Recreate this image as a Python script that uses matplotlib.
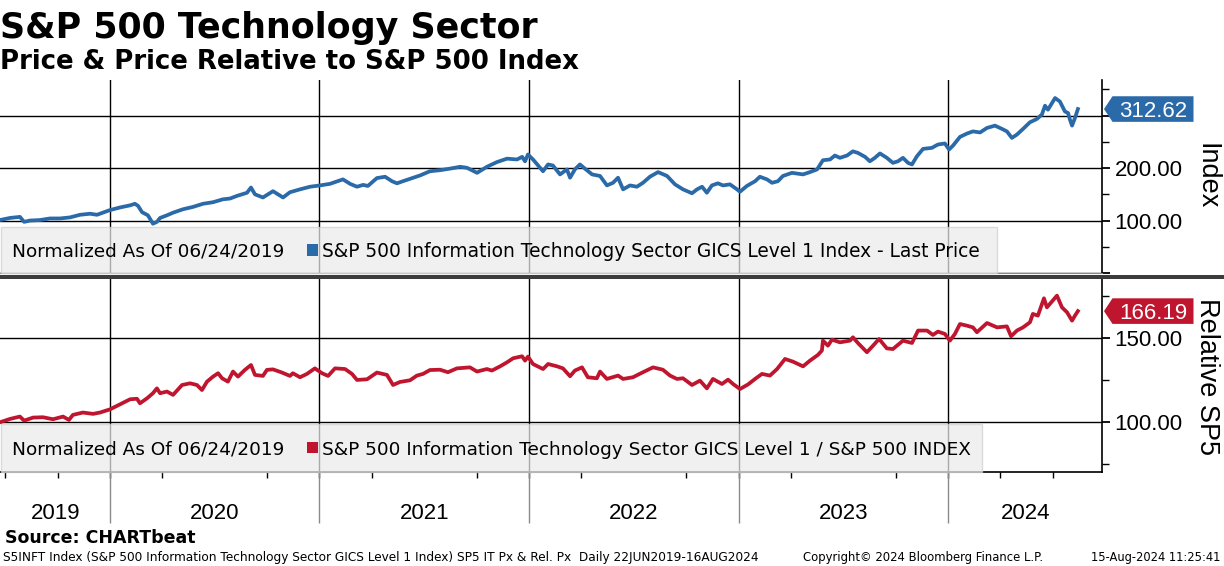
import matplotlib
matplotlib.use('Agg')
import matplotlib.pyplot as plt
from matplotlib.patches import Rectangle, Polygon
from matplotlib.ticker import FixedLocator

W, H = 1224, 566

# time axis in decimal years, values normalized to 100 on 06/24/2019
tech_t = [2019.475, 2019.523, 2019.570, 2019.590, 2019.618, 2019.666, 2019.714, 2019.761, 2019.809, 2019.857,
          2019.905, 2019.938, 2020.000, 2020.048, 2020.096, 2020.119, 2020.134, 2020.153, 2020.181, 2020.205,
          2020.224, 2020.239, 2020.272, 2020.301, 2020.348, 2020.396, 2020.444, 2020.492, 2020.539, 2020.573,
          2020.606, 2020.654, 2020.673, 2020.692, 2020.730, 2020.778, 2020.826, 2020.859, 2020.907, 2020.955,
          2021.002, 2021.050, 2021.112, 2021.146, 2021.179, 2021.208, 2021.231, 2021.274, 2021.313, 2021.346,
          2021.370, 2021.398, 2021.446, 2021.480, 2021.527, 2021.575, 2021.623, 2021.671, 2021.704, 2021.752,
          2021.799, 2021.847, 2021.895, 2021.943, 2021.967, 2021.981, 2021.995, 2022.019, 2022.067, 2022.091,
          2022.114, 2022.148, 2022.181, 2022.196, 2022.219, 2022.243, 2022.267, 2022.301, 2022.339, 2022.372,
          2022.401, 2022.425, 2022.449, 2022.482, 2022.515, 2022.544, 2022.577, 2022.616, 2022.659, 2022.697,
          2022.735, 2022.778, 2022.802, 2022.826, 2022.849, 2022.873, 2022.902, 2022.926, 2022.959, 2022.993,
          2023.007, 2023.040, 2023.079, 2023.102, 2023.136, 2023.160, 2023.188, 2023.212, 2023.255, 2023.308,
          2023.341, 2023.375, 2023.403, 2023.437, 2023.460, 2023.484, 2023.518, 2023.546, 2023.570, 2023.604,
          2023.627, 2023.651, 2023.675, 2023.708, 2023.737, 2023.761, 2023.785, 2023.809, 2023.828, 2023.852,
          2023.881, 2023.923, 2023.952, 2023.985, 2024.005, 2024.024, 2024.057, 2024.091, 2024.119, 2024.153,
          2024.186, 2024.224, 2024.258, 2024.281, 2024.305, 2024.329, 2024.358, 2024.391, 2024.424, 2024.448,
          2024.463, 2024.477, 2024.511, 2024.534, 2024.558, 2024.573, 2024.582, 2024.592, 2024.606, 2024.620]
tech_v = [101, 105, 107, 97.5, 100, 101, 104, 104, 106, 111,
          113, 111, 120, 125, 129, 132, 128, 116, 110, 94,
          97.5, 105, 110, 115, 121.5, 126, 132, 135, 140.5, 142,
          147, 153, 163, 150, 144, 156, 144, 154, 159.5, 164.5,
          167, 170, 178.5, 170, 164.5, 168, 166, 181, 183.5, 175,
          171, 175, 181.5, 186, 194, 196, 199, 202.5, 200.6, 191,
          202.5, 211.5, 218, 216.5, 221.5, 213, 226, 216.5, 194, 207,
          205, 188, 197.5, 181.7, 197.5, 207, 199, 188, 185, 167,
          172, 181.7, 159.5, 167, 164.5, 172, 183.5, 192.4, 185, 169,
          159.5, 152, 159.5, 164.5, 153, 167, 171, 167, 169, 159.5,
          155, 166, 175, 183.5, 178.5, 172, 175, 185, 191, 188,
          192.4, 197.5, 215, 216.5, 224, 219.6, 224, 232, 229, 221.5,
          213, 219.6, 228, 219.6, 210, 213, 219.6, 210, 207, 222.8,
          236.7, 238.6, 245, 247, 235.5, 243, 259.5, 266, 270, 268,
          276.6, 281, 274.7, 270, 257.6, 264, 274.7, 287.4, 293.7, 302,
          319, 311.4, 333.6, 327, 308, 305, 292.4, 281, 295.6, 312.62]

rel_t = [2019.475, 2019.523, 2019.570, 2019.590, 2019.633, 2019.680, 2019.728, 2019.776, 2019.804, 2019.823,
         2019.871, 2019.919, 2019.952, 2020.000, 2020.048, 2020.096, 2020.129, 2020.143, 2020.177, 2020.205,
         2020.224, 2020.239, 2020.272, 2020.301, 2020.344, 2020.382, 2020.415, 2020.439, 2020.463, 2020.492,
         2020.516, 2020.535, 2020.563, 2020.587, 2020.611, 2020.644, 2020.673, 2020.692, 2020.730, 2020.749,
         2020.778, 2020.821, 2020.859, 2020.873, 2020.907, 2020.940, 2020.978, 2021.012, 2021.041, 2021.074,
         2021.122, 2021.155, 2021.179, 2021.227, 2021.274, 2021.322, 2021.351, 2021.384, 2021.432, 2021.465,
         2021.494, 2021.527, 2021.575, 2021.613, 2021.656, 2021.718, 2021.752, 2021.799, 2021.823, 2021.862,
         2021.895, 2021.924, 2021.967, 2021.981, 2021.995, 2022.019, 2022.067, 2022.091, 2022.134, 2022.162,
         2022.196, 2022.219, 2022.253, 2022.281, 2022.324, 2022.339, 2022.372, 2022.425, 2022.449, 2022.496,
         2022.544, 2022.592, 2022.639, 2022.673, 2022.706, 2022.735, 2022.778, 2022.816, 2022.849, 2022.878,
         2022.921, 2022.950, 2022.974, 2023.007, 2023.045, 2023.079, 2023.112, 2023.150, 2023.184, 2023.222,
         2023.260, 2023.308, 2023.341, 2023.379, 2023.398, 2023.403, 2023.427, 2023.446, 2023.484, 2023.532,
         2023.546, 2023.570, 2023.613, 2023.642, 2023.671, 2023.708, 2023.737, 2023.785, 2023.828, 2023.857,
         2023.900, 2023.928, 2023.952, 2023.985, 2024.009, 2024.033, 2024.057, 2024.091, 2024.119, 2024.138,
         2024.186, 2024.234, 2024.281, 2024.301, 2024.329, 2024.358, 2024.391, 2024.405, 2024.429, 2024.458,
         2024.472, 2024.520, 2024.544, 2024.568, 2024.592, 2024.606, 2024.620]
rel_v = [100, 102, 103.4, 101, 102.8, 103, 101.8, 103.4, 101.4, 104.4,
         105.8, 105, 105.8, 107.7, 110.7, 113.7, 114, 111.3, 114.3, 117.3,
         120.2, 117.3, 118.3, 116.3, 122.2, 123.2, 122.2, 119.2, 124.2, 127.2,
         129.2, 126.2, 124.2, 130.2, 127.2, 131.2, 134.1, 128.2, 127.6, 131.2,
         131.5, 129.6, 127.6, 129.2, 126.8, 128.8, 132.1, 129.2, 127.6, 132.1,
         131.7, 128.8, 125.2, 125.6, 129.6, 128.2, 122.2, 124, 125, 127.8,
         128.8, 131.1, 131.3, 129.8, 132.1, 132.7, 130.2, 131.7, 130.8, 133.3,
         135.7, 138.1, 139.3, 136.7, 139.1, 134.7, 131.7, 134.7, 133.3, 132.1,
         127.4, 130.8, 132.7, 126.8, 126.2, 130.2, 125.8, 127.8, 125.8, 126.8,
         129.8, 132.7, 131.3, 127.8, 125.8, 126.2, 122.2, 124.8, 120.2, 125.8,
         122.8, 125.4, 122.8, 119.8, 122.5, 125.8, 128.8, 127.8, 131.7, 137.7,
         136.1, 133.3, 136.7, 140.1, 142.7, 148.6, 145.6, 149.2, 147.6, 148.6,
         150.6, 147.2, 141.7, 145.6, 149.6, 144, 143.6, 148.6, 147.2, 154.6,
         154.6, 152, 154, 152.6, 148.6, 152.6, 158.5, 157.5, 156.5, 153.6,
         159.1, 156.5, 157.1, 151.2, 154.6, 156.5, 159.5, 164.5, 163.5, 173.8,
         168.4, 175.4, 168.4, 165.5, 160.5, 163.5, 166.19]

tech_last = 312.62
rel_last = 166.19
year_starts = [2020, 2021, 2022, 2023, 2024]
year_labels = ['2019', '2020', '2021', '2022', '2023', '2024']
year_label_pos = [2019.74, 2020.5, 2021.5, 2022.5, 2023.5, 2024.37]

BLUE = '#2b6aa8'
RED = '#c0152f'
TICKFONT = 'Liberation Sans'

plt.rcParams['font.family'] = 'DejaVu Sans'


def px_rect(x0, y0, x1, y1):
    return [x0 / W, 1 - y1 / H, (x1 - x0) / W, (y1 - y0) / H]


def fx(x):
    return x / W


def fy(y):
    return 1 - y / H


fig = plt.figure(figsize=(W / 100, H / 100), dpi=100)
ax1 = fig.add_axes(px_rect(0, 80, 1102, 273))
ax2 = fig.add_axes(px_rect(0, 279, 1102, 472), sharex=ax1)

ax1.plot(tech_t, tech_v, color=BLUE, lw=2.7, zorder=3, solid_joinstyle='round')
ax2.plot(rel_t, rel_v, color=RED, lw=2.7, zorder=3, solid_joinstyle='round')

ax1.set_xlim(2019.475, 2024.735)
ax1.set_ylim(1.5, 368)
ax2.set_ylim(70.4, 185.3)

ax1.set_yticks([0, 100, 200, 300], labels=['', '100.00', '200.00', ''],
               fontfamily=TICKFONT, fontsize=16)
ax1.yaxis.set_minor_locator(FixedLocator([50, 150, 250, 350]))
ax2.set_yticks([100, 150], labels=['100.00', '150.00'], fontfamily=TICKFONT, fontsize=16)
ax2.yaxis.set_minor_locator(FixedLocator([75, 125, 175]))

for ax in (ax1, ax2):
    ax.yaxis.tick_right()
    ax.tick_params(axis='y', which='major', direction='out', length=6, width=1.3, pad=3, colors='k')
    ax.tick_params(axis='y', which='minor', direction='out', length=5, width=1)
    ax.grid(axis='y', which='major', color='k', lw=1)
    for yr in year_starts:
        ax.axvline(yr, color='k', lw=1, zorder=1)
    ax.spines['left'].set_visible(False)
    ax.spines['top'].set_visible(False)
    ax.spines['right'].set_linewidth(1.2)
    ax.set_axisbelow(True)

ax1.spines['bottom'].set_color('#8a8a8a')
ax1.tick_params(axis='x', which='both', bottom=False, labelbottom=False)
ax2.spines['bottom'].set_linewidth(1.2)

quarters = [y + q for y in range(2019, 2025) for q in (0.0, 0.25, 0.5, 0.75)]
ax2.xaxis.set_minor_locator(FixedLocator(quarters))
ax2.set_xticks(year_label_pos, labels=year_labels, fontfamily=TICKFONT, fontsize=16)
ax2.tick_params(axis='x', which='major', length=0, pad=22)
ax2.tick_params(axis='x', which='minor', direction='out', length=4, width=1)
ax2.vlines(year_starts, -0.264, 0, transform=ax2.get_xaxis_transform(),
           colors='#8a8a8a', lw=1, clip_on=False)

ax1.set_ylabel('Index', fontfamily=TICKFONT, fontsize=19.5, rotation=270, labelpad=0)
ax2.set_ylabel('Relative SP5', fontfamily=TICKFONT, fontsize=19.5, rotation=270, labelpad=0)
ax1.yaxis.set_label_position('right')
ax2.yaxis.set_label_position('right')
ax1.yaxis.set_label_coords(1220 / 1102, 0.5)
ax2.yaxis.set_label_coords(1220.5 / 1102, (472 - 376.7) / 193)

# divider bar between the panels
fig.patches.append(Rectangle((0, fy(279)), 1, (279 - 275) / H, transform=fig.transFigure,
                             facecolor='#3c3c3c', edgecolor='none', zorder=5))

# legend boxes
for (x1, y0, y1, col, fs, label) in [
        (997, 227, 273, BLUE, 13.45, 'S&P 500 Information Technology Sector GICS Level 1 Index - Last Price'),
        (982, 424, 471.5, RED, 13.3, 'S&P 500 Information Technology Sector GICS Level 1 / S&P 500 INDEX')]:
    fig.patches.append(Rectangle((fx(1), fy(y1)), fx(x1 - 1), (y1 - y0) / H, transform=fig.transFigure,
                                 facecolor='#ebebeb', alpha=0.72, edgecolor='#d0d0d0', lw=1, zorder=4))
    base = (y0 + y1) / 2 + 7
    fig.text(fx(12), fy(base), 'Normalized As Of 06/24/2019', fontsize=13.3, va='baseline', zorder=6)
    fig.patches.append(Rectangle((fx(306.5), fy((y0 + y1) / 2 + 5.5)), fx(11), 11 / H,
                                 transform=fig.transFigure, facecolor=col, edgecolor='none', zorder=6))
    fig.text(fx(322), fy(base), label, fontsize=fs, va='baseline', zorder=6)

# last value tags on the right
fig.canvas.draw()
for ax, val, col in [(ax1, tech_last, BLUE), (ax2, rel_last, RED)]:
    yc = ax.transData.transform((2020, val))[1]
    yc = H - yc
    pts = [(1104, yc), (1112.5, yc - 12.8), (1193.5, yc - 12.8), (1193.5, yc + 12.8), (1112.5, yc + 12.8)]
    fig.patches.append(Polygon([(fx(a), fy(b)) for a, b in pts], closed=True, transform=fig.transFigure,
                               facecolor=col, edgecolor='none', zorder=6))
    fig.text(fx(1153), fy(yc), f'{val:.2f}', color='white', fontfamily=TICKFONT, fontsize=16,
             ha='center', va='center_baseline', zorder=7)

# titles
fig.text(0, fy(38), 'S&P 500 Technology Sector', fontsize=25.1, fontweight='bold', va='baseline')
fig.text(0, fy(69), 'Price & Price Relative to S&P 500 Index', fontsize=18.75, fontweight='bold', va='baseline')

# footer
fig.text(fx(5), fy(543), 'Source: CHARTbeat', fontsize=12.5, fontweight='bold', va='baseline')
fig.text(fx(3), fy(561), 'S5INFT Index (S&P 500 Information Technology Sector GICS Level 1 Index) SP5 IT Px & Rel. Px  Daily 22JUN2019-16AUG2024',
         fontsize=8.75, va='baseline')
fig.text(fx(803), fy(561), 'Copyright\u00a9 2024 Bloomberg Finance L.P.', fontsize=8.35, va='baseline')
fig.text(fx(1220), fy(561), '15-Aug-2024 11:25:41', fontsize=8.3, va='baseline', ha='right')

fig.savefig('out.png', dpi=100)
